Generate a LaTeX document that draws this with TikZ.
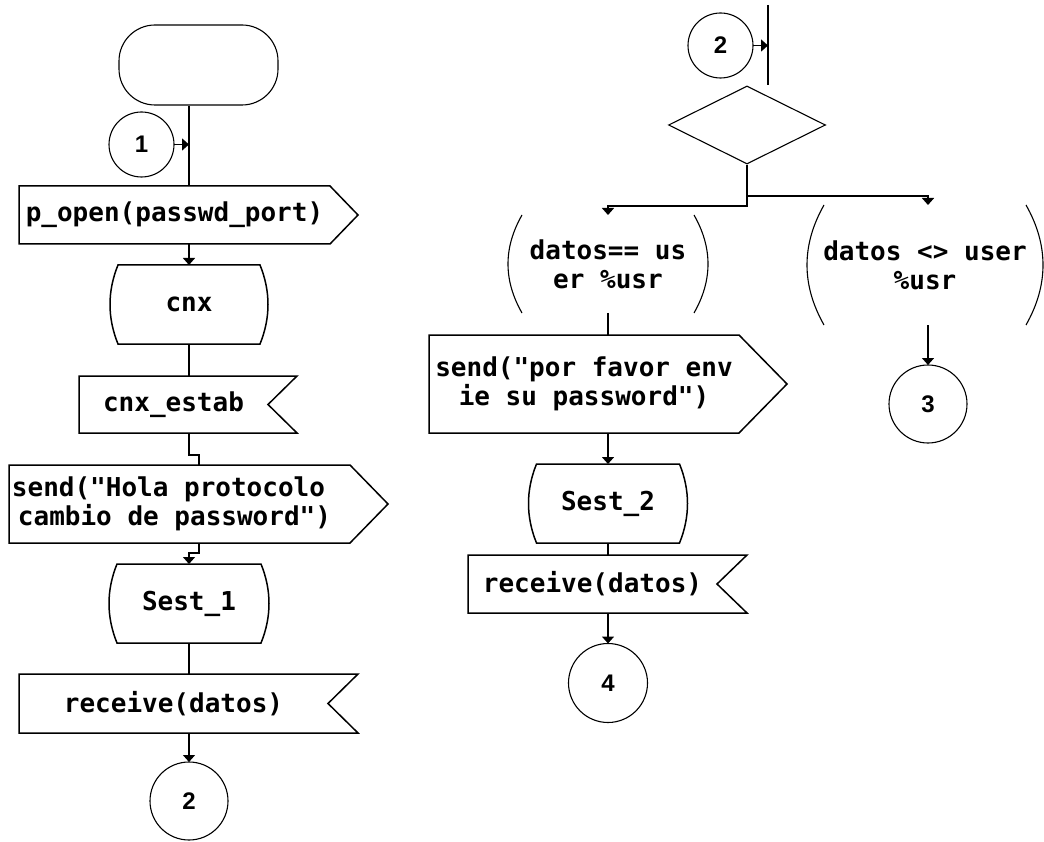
\documentclass[tikz,border=0pt]{standalone}
\usepackage{fontspec}
\usetikzlibrary{shapes.geometric,arrows.meta,calc}
\newfontfamily\flowfont{DejaVu Sans Mono}
\newfontfamily\digitfont{Liberation Sans}
\newcommand\flowtext{\flowfont\bfseries\fontsize{26}{29}\selectfont}
\newcommand\digittext{\digitfont\bfseries\fontsize{24}{24}\selectfont}

% Outline helpers drawn around invisible body nodes
% send: pointed right end; #2 = depth of the point
\newcommand\drawsend[2]{\draw[outline] (#1.north west) -- (#1.north east) -- ($(#1.east)+(#2,0)$) -- (#1.south east) -- (#1.south west) -- cycle;}
% receive: notched right end; #2 = reach of the flag tips
\newcommand\drawrecv[2]{\draw[outline] (#1.north west) -- ($(#1.north east)+(#2,0)$) -- (#1.east) -- ($(#1.south east)+(#2,0)$) -- (#1.south west) -- cycle;}
% display-like box with bulging sides; #2 = bulge, #3 = third of the height
\newcommand\drawdisplay[3]{\draw[outline] ($(#1.north west)+(#2,0)$) -- ($(#1.north east)+(-#2,0)$)
  .. controls ($(#1.north east)+(#2/3,#3)$) and ($(#1.south east)+(#2/3,-#3)$) .. ($(#1.south east)+(-#2,0)$)
  -- ($(#1.south west)+(#2,0)$)
  .. controls ($(#1.south west)+(-#2/3,-#3)$) and ($(#1.north west)+(-#2/3,#3)$) .. ($(#1.north west)+(#2,0)$) -- cycle;}
% pair of round brackets around a branch condition
\newcommand\drawparens[3]{%
  \draw[fine outline] ($(#1.north west)+(#2,0)$) .. controls ($(#1.north west)+(-#2/3,#3)$) and ($(#1.south west)+(-#2/3,-#3)$) .. ($(#1.south west)+(#2,0)$);
  \draw[fine outline] ($(#1.north east)+(-#2,0)$) .. controls ($(#1.north east)+(#2/3,#3)$) and ($(#1.south east)+(#2/3,-#3)$) .. ($(#1.south east)+(-#2,0)$);}

\begin{document}
\begin{tikzpicture}[x=1pt,y=-1pt,
  outline/.style={line width=1.5pt, line join=miter},
  fine outline/.style={line width=1.1pt},
  body/.style={rectangle, inner sep=0pt, outer sep=0pt, align=center, font=\flowtext},
  conn/.style={circle, draw, line width=1.1pt, inner sep=0pt, outer sep=0pt, font=\digittext},
  link/.style={line width=1.5pt},
  arrow/.style={link, -{Triangle[width=12pt,length=7pt]}},
]
\fill[white] (0,0) rectangle (1044,842);
\useasboundingbox (0,0) rectangle (1044,842);

% ---------- left column ----------
\node[draw, fine outline, rounded corners=36pt, minimum width=159pt, minimum height=80pt, inner sep=0pt] (term) at (198.5,65) {};
\node[conn, minimum size=65pt] (c1) at (141.5,144.5) {1};
\node[body, minimum width=311pt, minimum height=58pt] (pop) at (174.5,215) {p\_open(passwd\_port)};
\node[body, minimum width=158pt, minimum height=79pt] (cnx) at (189,304.5) {cnx};
\node[body, minimum width=189pt, minimum height=57pt] (estab) at (173.5,404.5) {cnx\_estab};
\node[body, minimum width=341pt, minimum height=78pt, align=left] (send1) at (179.5,504)
  {send("Hola protocolo\hspace*{16pt}\\\hspace*{6pt}cambio de password")\hspace*{16pt}};
\node[body, minimum width=160pt, minimum height=79pt] (sest1) at (189,603.5) {Sest\_1};
\node[body, minimum width=309pt, minimum height=59pt] (recv1) at (173.5,703.5) {receive(datos)};
\node[conn, minimum size=78pt] (c2a) at (189,801) {2};
\coordinate (j1) at (199,455);
\coordinate (j2) at (189,553);

\drawsend{pop}{28}
\drawdisplay{cnx}{8}{26.3}
\drawrecv{estab}{29}
\drawsend{send1}{38}
\drawdisplay{sest1}{8}{26.3}
\drawrecv{recv1}{30}

\draw[link] (term.south -| cnx) -- (pop.north -| cnx);
\draw[arrow] (c1.east) -- (c1.east -| cnx);
\draw[arrow] (pop.south -| cnx) -- (cnx.north);
\draw[link] (cnx.south) -- (estab.north -| cnx);
\draw[link] (estab.south -| cnx) |- (j1) -- (send1.north -| j1);
\draw[arrow] (send1.south -| j1) |- (j2) -- (sest1.north);
\draw[link] (sest1.south) -- (recv1.north -| sest1);
\draw[arrow] (recv1.south -| sest1) -- (c2a.north);

% ---------- right column ----------
\node[conn, minimum size=65pt] (c2b) at (720.5,45.5) {2};
\coordinate (bartop) at (768,5);
\coordinate (barbot) at (768,85);
\node[diamond, draw, fine outline, minimum width=157pt, minimum height=78pt, inner sep=0pt] (dec) at (747,125) {};
\coordinate (forkL) at (747,206);
\coordinate (forkR) at (747,196);
\node[body, minimum width=200pt, minimum height=98pt] (yes) at (608,264) {datos== us\\er \%usr};
\node[body, minimum width=236pt, minimum height=120pt] (no) at (925,265) {datos <> user\\\%usr};
\node[body, minimum width=310pt, minimum height=98pt] (send2) at (584,384) {send("por favor env\\ie su password")};
\node[body, minimum width=159pt, minimum height=79pt] (sest2) at (608,503.5) {Sest\_2};
\node[body, minimum width=249pt, minimum height=58pt] (recv2) at (592.5,584) {receive(datos)};
\node[conn, minimum size=79pt] (c4) at (608,683) {4};
\node[conn, minimum size=78pt] (c3) at (928,404) {3};

\drawparens{yes}{14}{32.7}
\drawparens{no}{17}{40}
\drawsend{send2}{48}
\drawdisplay{sest2}{8}{26.3}
\drawrecv{recv2}{30}

\draw[link] (bartop) -- (barbot);
\draw[arrow] (c2b.east) -- (c2b.east -| bartop);
\draw[arrow] (dec.south) -- (forkL) -| (yes.north);
\draw[arrow] (forkR) -| (c3 |- no.north);
\draw[link] (yes.south) -- (send2.north -| yes);
\draw[arrow] (send2.south -| yes) -- (sest2.north);
\draw[link] (sest2.south) -- (recv2.north -| sest2);
\draw[arrow] (recv2.south -| sest2) -- (c4.north);
\draw[arrow] (no.south -| c3) -- (c3.north);
\end{tikzpicture}
\end{document}
